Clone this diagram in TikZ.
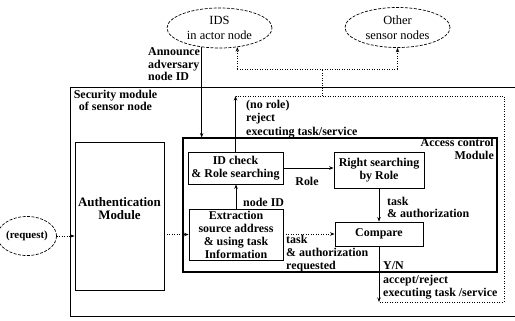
\documentclass[tikz,border=0pt]{standalone}
\usepackage{fontspec}
\setmainfont{Liberation Serif}
\usetikzlibrary{arrows.meta,shapes.geometric,calc}

\begin{document}
\begin{tikzpicture}[x=1bp,y=-1bp,
  lbl/.style={font=\bfseries\fontsize{12}{12.5}\selectfont, inner sep=0pt, align=left},
  box/.style={draw, line width=0.9pt, inner sep=0pt, align=center,
    font=\bfseries\fontsize{12}{12.5}\selectfont},
  cloud/.style={ellipse, draw, dash pattern=on 3pt off 1.5pt, line width=0.7pt,
    inner sep=0pt, align=center, font=\fontsize{12.5}{15}\selectfont,
    minimum width=105bp, minimum height=40bp},
  arr/.style={-{Stealth[length=4.5pt,width=3.5pt]}, line width=0.8pt},
  dot/.style={dash pattern=on 1pt off 1.5pt, line width=0.8pt},
]
\useasboundingbox (0,0) rectangle (515,320);
\fill[white] (0,0) rectangle (515,320);

% external nodes
\node[cloud] (ids) at (219.5,28) {IDS\\in actor node};
\node[cloud] (oth) at (397.5,27.5) {Other\\sensor nodes};
\node[ellipse, draw, dash pattern=on 3pt off 1.5pt, line width=0.7pt, inner sep=0pt,
  minimum width=44bp, minimum height=39bp,
  font=\bfseries\fontsize{11}{12}\selectfont] (req) at (27,236) {(request)};

% security module of the sensor node (open to the right)
\draw[line width=0.8pt] (520,87) -| (70,316) -- (520,316);
\node[lbl, align=center, font=\bfseries\fontsize{12}{11.5}\selectfont] (secl) at (115.5,100.5)
  {Security module\\of sensor node};

% access control module
\node[draw, line width=1.05pt, minimum width=314bp, minimum height=134bp, inner sep=0pt] (acc) at (340,205) {};
\node[lbl, align=right, anchor=east] (accl) at (494,149) {Access control\\Module};

% processing blocks
\node[box, minimum width=89bp, minimum height=148bp] (auth) at (119.5,216) {};
\node[lbl, align=center, font=\bfseries\fontsize{13}{13.5}\selectfont] (authl) at (119.5,208.5)
  {Authentication\\Module};
\node[box, minimum width=95bp, minimum height=32bp] (idc) at (235.5,168) {ID check\\\& Role searching};
\node[box, minimum width=94bp, minimum height=51bp, font=\bfseries\fontsize{12}{13}\selectfont] (ext) at (236,234.5)
  {Extraction\\source address\\\& using task\\Information};
\node[box, minimum width=90bp, minimum height=36bp] (rgt) at (379,170) {Right searching\\by Role};
\node[box, minimum width=88bp, minimum height=24bp] (cmp) at (379,234) {Compare};

% connector labels
\node[lbl, anchor=west] (ann) at (148,64.5) {Announce\\adversary\\node ID};
\node[lbl, anchor=west, font=\bfseries\fontsize{12}{13.5}\selectfont] (nor) at (246,119)
  {(no role)\\reject\\executing task/service};
\node[lbl] (rolel) at (307,181) {Role};
\node[lbl, anchor=west] (nidl) at (243,202) {node ID};
\node[lbl, anchor=west, font=\bfseries\fontsize{12}{11.5}\selectfont] (tal) at (387,207.5) {task\\\& authorization};
\node[lbl, anchor=west, font=\bfseries\fontsize{12}{13}\selectfont] (tarl) at (286,254) {task\\\& authorization\\requested};
\node[lbl, anchor=west] (ynl) at (383,266) {Y/N};
\node[lbl, anchor=west] (arl) at (383,287) {accept/reject\\executing task /service};

% routing points
\coordinate (bus) at (idc.north |- 0,96);
\coordinate (busR) at (504,96);
\coordinate (outB) at (cmp.south |- 0,302);
\coordinate (outR) at (504,302);
\coordinate (br) at (322,96);
\coordinate (brT) at (322,69);
\coordinate (idsB) at (ids.313 |- 0,69);
\coordinate (othB) at (oth.south |- 0,69);

% request flow
\draw[arr, dot] (req.east) -- (req.east -| auth.west);
\draw[arr, dot] (ext.west -| auth.east) -- (ext.west);
\draw[arr] (ext.north) -- (ext.north |- idc.south);
\draw[arr] (idc.east) -- (idc.east -| rgt.west);
\draw[arr] (rgt.south) -- (cmp.north);
\draw[arr, dot] (ext.east |- cmp.west) -- (cmp.west);

% adversary announcement from the IDS
\draw[arr] (ids.227) -- (ids.227 |- acc.north);

% results reported back
\draw[arr] (idc.north) -- (bus);
\draw[arr] (cmp.south) -- (outB);
\draw[dot] (bus) -- (busR) -- (outR) -- (outB);
\draw[dot] (br) -- (brT);
\draw[dot] (idsB) -- (othB);
\draw[arr, dot] (idsB) -- (ids.313);
\draw[arr, dot] (othB) -- (oth.south);
\end{tikzpicture}
\end{document}
